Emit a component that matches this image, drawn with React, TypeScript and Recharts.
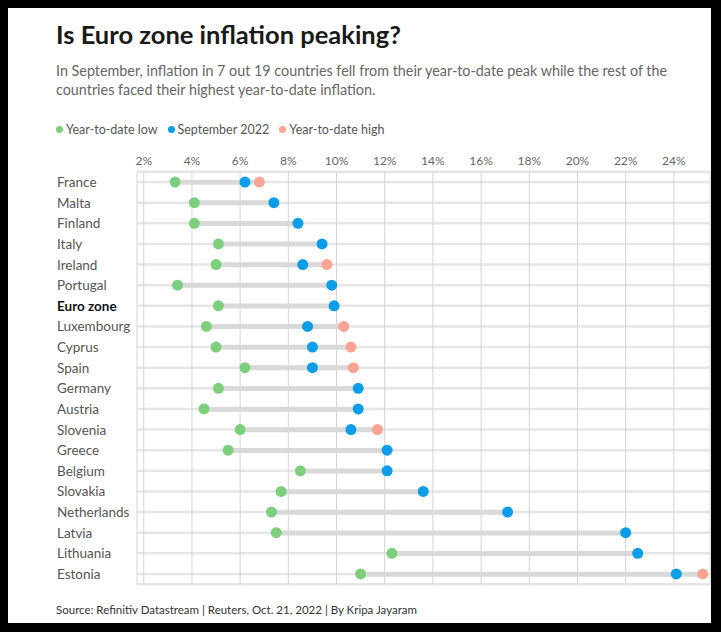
import {
  Bar,
  CartesianGrid,
  ComposedChart,
  Line,
  XAxis,
  YAxis,
} from "recharts";

const countries = [
  "France", "Malta", "Finland", "Italy", "Ireland", "Portugal", "Euro zone",
  "Luxembourg", "Cyprus", "Spain", "Germany", "Austria", "Slovenia", "Greece",
  "Belgium", "Slovakia", "Netherlands", "Latvia", "Lithuania", "Estonia",
];

const ytdLow = [
  3.3, 4.1, 4.1, 5.1, 5.0, 3.4, 5.1, 4.6, 5.0, 6.2,
  5.1, 4.5, 6.0, 5.5, 8.5, 7.7, 7.3, 7.5, 12.3, 11.0,
];

const sept2022 = [
  6.2, 7.4, 8.4, 9.4, 8.6, 9.8, 9.9, 8.8, 9.0, 9.0,
  10.9, 10.9, 10.6, 12.1, 12.1, 13.6, 17.1, 22.0, 22.5, 24.1,
];

const ytdHigh: (number | null)[] = [
  6.8, null, null, null, 9.6, null, null, 10.3, 10.6, 10.7,
  null, null, 11.7, null, null, null, null, null, null, 25.2,
];

const xTicks = [2, 4, 6, 8, 10, 12, 14, 16, 18, 20, 22, 24];

const GREEN = "#7dcf7d";
const BLUE = "#0b9de8";
const SALMON = "#fba493";

const rows = countries.map((name, i) => {
  const hi = ytdHigh[i];
  return {
    name,
    low: ytdLow[i],
    sept: sept2022[i],
    high: hi,
    range: [ytdLow[i], hi ?? sept2022[i]],
  };
});

const FONT = "Lato, 'Noto Sans', sans-serif";

function CountryTick(props: any) {
  const { y, payload } = props;
  const bold = payload.value === "Euro zone";
  return (
    <text
      x={49}
      y={y}
      dy={5}
      textAnchor="start"
      fontFamily={FONT}
      fontSize={13.5}
      fontWeight={bold ? 700 : 400}
      fill={bold ? "#111" : "#555"}
    >
      {payload.value}
    </text>
  );
}

function dotFor(color: string, key: "low" | "sept" | "high") {
  return (props: any) => {
    const { cx, cy, payload, index } = props;
    if (payload[key] == null || cx == null || cy == null) {
      return <g key={`${key}-${index}`} />;
    }
    return <circle key={`${key}-${index}`} cx={cx} cy={cy} r={5.5} fill={color} />;
  };
}

function LegendItem({ color, label }: { color: string; label: string }) {
  return (
    <span style={{ display: "inline-flex", alignItems: "center", marginRight: 10 }}>
      <span
        style={{
          display: "inline-block",
          width: 7,
          height: 7,
          borderRadius: "50%",
          background: color,
          marginRight: 3,
        }}
      />
      {label}
    </span>
  );
}

export default function App() {
  document.body.style.background = "#000";

  return (
    <div
      style={{
        position: "relative",
        width: 703,
        height: 615,
        background: "#fff",
        fontFamily: FONT,
      }}
    >
      <div style={{ position: "absolute", left: 0, top: 0 }}>
        <ComposedChart
          width={703}
          height={615}
          data={rows}
          layout="vertical"
          margin={{ top: 133.7, right: 1, bottom: 38.7, left: 0 }}
        >
          <CartesianGrid horizontal vertical={false} stroke="#e6e6e6" strokeWidth={2.5} />
          <CartesianGrid horizontal={false} vertical stroke="#d4d4d4" strokeWidth={1} />
          <XAxis
            type="number"
            orientation="top"
            domain={[1.72, 25.5]}
            ticks={xTicks}
            tickFormatter={(v) => `${v}%`}
            axisLine={false}
            tickLine={false}
            tickSize={0}
            tickMargin={7}
            height={30}
            interval={0}
            allowDataOverflow
            tick={{ fill: "#666", fontSize: 12, fontFamily: FONT }}
          />
          <YAxis
            type="category"
            dataKey="name"
            width={129}
            axisLine={false}
            tickLine={false}
            interval={0}
            tick={<CountryTick />}
          />
          <Bar dataKey="range" barSize={5} fill="#d9d9d9" isAnimationActive={false} />
          <Line
            dataKey="low"
            stroke="none"
            dot={dotFor(GREEN, "low")}
            activeDot={false}
            isAnimationActive={false}
          />
          <Line
            dataKey="high"
            stroke="none"
            dot={dotFor(SALMON, "high")}
            activeDot={false}
            isAnimationActive={false}
          />
          <Line
            dataKey="sept"
            stroke="none"
            dot={dotFor(BLUE, "sept")}
            activeDot={false}
            isAnimationActive={false}
          />
        </ComposedChart>
      </div>

      <div
        style={{
          position: "absolute",
          left: 48,
          top: 14,
          fontSize: 25.5,
          lineHeight: "25.5px",
          fontWeight: 700,
          color: "#1a1a1a",
        }}
      >
        Is Euro zone inflation peaking?
      </div>

      <div
        style={{
          position: "absolute",
          left: 48,
          top: 52.5,
          width: 640,
          fontSize: 14.35,
          lineHeight: "19.7px",
          color: "#666",
        }}
      >
        In September, inflation in 7 out 19 countries fell from their year-to-date peak while the rest of the
        countries faced their highest year-to-date inflation.
      </div>

      <div
        style={{
          position: "absolute",
          left: 48,
          top: 115.6,
          fontSize: 12.5,
          lineHeight: "12.5px",
          color: "#555",
          display: "flex",
          whiteSpace: "nowrap",
        }}
      >
        <LegendItem color={GREEN} label="Year-to-date low" />
        <LegendItem color={BLUE} label="September 2022" />
        <LegendItem color={SALMON} label="Year-to-date high" />
      </div>

      <div
        style={{
          position: "absolute",
          left: 48,
          top: 595.8,
          fontSize: 11.5,
          lineHeight: "11.5px",
          color: "#333",
          whiteSpace: "nowrap",
        }}
      >
        Source: Refinitiv Datastream | Reuters, Oct. 21, 2022 | By Kripa Jayaram
      </div>
    </div>
  );
}
